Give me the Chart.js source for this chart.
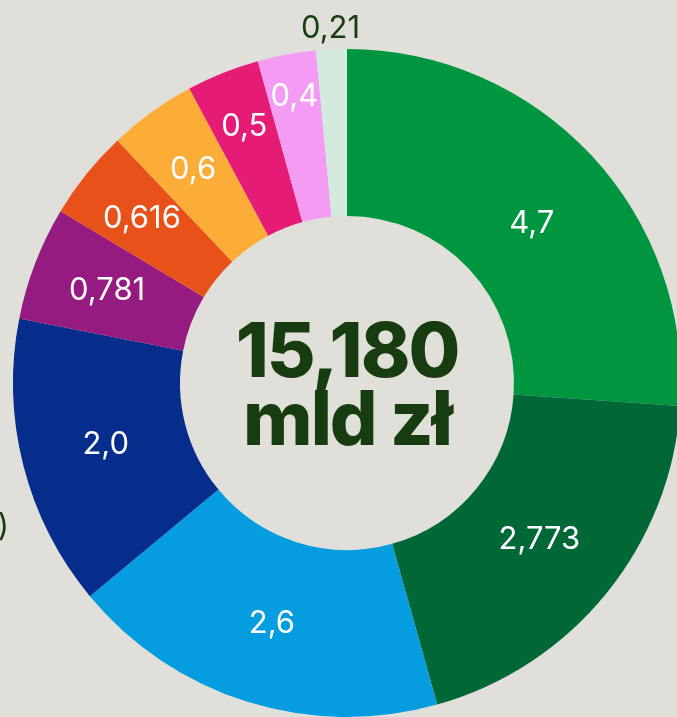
<!DOCTYPE html>
<html>
<head>
<meta charset="utf-8">
<script src="https://cdn.jsdelivr.net/npm/chart.js@4/dist/chart.umd.min.js"></script>
<style>
  html, body { margin: 0; padding: 0; background: #e1dfda; }
  #wrap { width: 677px; height: 717px; overflow: hidden; position: relative; }
  #chart { position: absolute; left: 0; top: 0; }
</style>
</head>
<body>
<div id="wrap"><canvas id="chart" width="700" height="780"></canvas></div>
<script>
// slice sizes as drawn in the picture, and the labels printed on them
const categories = ["A", "B", "C", "D", "E", "F", "G", "H", "I", "J"];
const values = [3.7, 2.773, 2.6, 2.0, 0.781, 0.616, 0.6, 0.5, 0.4, 0.21];
const valueLabels = ["4,7", "2,773", "2,6", "2,0", "0,781", "0,616", "0,6", "0,5", "0,4", "0,21"];
const totalLines = ["15,180", "mld zł"];

const colors = ["#00963f", "#006837", "#069de0", "#062d8b", "#951b81",
                "#e9511b", "#fbad38", "#e61b76", "#f49cf3", "#d4eadf"];

// radius of each value label (px from centre), small slices pushed outward
const labelRadius = [244, 248, 252, 249, 257, 263, 263, 276, 291, 355];

const labelPlugin = {
  id: "labels",
  afterDraw(chart) {
    const ctx = chart.ctx;
    const arcs = chart.getDatasetMeta(0).data;
    ctx.save();
    ctx.textAlign = "center";
    ctx.textBaseline = "middle";
    ctx.font = "400 31px Inter";
    arcs.forEach((arc, i) => {
      let mid = (arc.startAngle + arc.endAngle) / 2;
      if (i === 0) mid += 0.04; // first label sits a bit past the middle
      const r = labelRadius[i];
      const x = arc.x + Math.cos(mid) * r;
      const y = arc.y + Math.sin(mid) * r;
      ctx.fillStyle = i === arcs.length - 1 ? "#173c0f" : "#ffffff";
      ctx.fillText(valueLabels[i], x, y);
    });

    // total in the middle
    const cx = arcs[0].x, cy = arcs[0].y;
    ctx.fillStyle = "#173c0f";
    ctx.textBaseline = "alphabetic";
    ctx.font = "800 75px Inter";
    ctx.letterSpacing = "-2px";
    ctx.fillText(totalLines[0], cx, cy - 6);
    ctx.fillText(totalLines[1], cx, cy + 62);
    ctx.letterSpacing = "0px";

    // cut-off outside label at the left edge
    ctx.font = "400 31px Inter";
    ctx.textAlign = "right";
    ctx.textBaseline = "middle";
    ctx.fillText(")", 9, 527);
    ctx.restore();
  }
};

new Chart(document.getElementById("chart"), {
  type: "doughnut",
  data: {
    labels: categories,
    datasets: [{
      data: values,
      backgroundColor: colors,
      borderWidth: 0
    }]
  },
  options: {
    responsive: false,
    animation: false,
    cutout: "50%",
    layout: { padding: { left: 13, top: 49, right: 19, bottom: 63 } },
    plugins: {
      legend: { display: false },
      tooltip: { enabled: false }
    }
  },
  plugins: [labelPlugin]
});
</script>
</body>
</html>
